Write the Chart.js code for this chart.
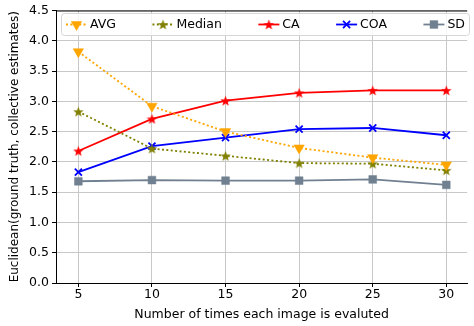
<!DOCTYPE html>
<html lang="en">
<head>
<meta charset="UTF-8">
<title>Euclidean distance chart</title>
<style>
    * { margin: 0; padding: 0; box-sizing: border-box; }
    body { background: #fff; width: 474px; height: 326px; overflow: hidden; }
    #wrap { width: 474px; height: 326px; position: relative; }
</style>
<script src="https://cdn.jsdelivr.net/npm/chart.js"></script>
</head>
<body>
<div id="wrap"><canvas id="chart"></canvas></div>
<script>
    // data
    var evaluations = [5, 10, 15, 20, 25, 30];
    var avgValues    = [3.82, 2.92, 2.50, 2.23, 2.07, 1.95];
    var medianValues = [2.83, 2.22, 2.10, 1.98, 1.97, 1.86];
    var caValues     = [2.18, 2.71, 3.01, 3.14, 3.18, 3.18];
    var coaValues    = [1.83, 2.26, 2.40, 2.54, 2.56, 2.44];
    var sdValues     = [1.68, 1.70, 1.69, 1.69, 1.71, 1.62];
    var yTicks = [0, 0.5, 1, 1.5, 2, 2.5, 3, 3.5, 4, 4.5];

    var FONT = "'DejaVu Sans', sans-serif";
    var FSIZE = 12.5;

    // filled five point star, since Chart.js 'star' is an asterisk
    function makeStar(color, size) {
        var c = document.createElement('canvas');
        c.width = size; c.height = size;
        var g = c.getContext('2d');
        var cx = size / 2, cy = size / 2, R = size / 2, r = R * 0.42;
        g.beginPath();
        for (var i = 0; i < 10; i++) {
            var rad = (i % 2 === 0) ? R : r;
            var a = -Math.PI / 2 + i * Math.PI / 5;
            var px = cx + rad * Math.cos(a), py = cy + rad * Math.sin(a) + size * 0.05;
            if (i === 0) g.moveTo(px, py); else g.lineTo(px, py);
        }
        g.closePath();
        g.fillStyle = color;
        g.fill();
        return c;
    }

    function pts(values) {
        return values.map(function (v, i) { return { x: evaluations[i], y: v }; });
    }

    var datasets = [
        { label: 'AVG', data: pts(avgValues), borderColor: '#ffa500', backgroundColor: '#ffa500',
          borderDash: [2, 2.4], pointStyle: 'triangle', rotation: 180, pointRadius: 6 },
        { label: 'Median', data: pts(medianValues), borderColor: '#808000', backgroundColor: '#808000',
          borderDash: [2, 2.4], pointStyle: makeStar('#808000', 11), pointRadius: 5 },
        { label: 'CA', data: pts(caValues), borderColor: '#ff0000', backgroundColor: '#ff0000',
          pointStyle: makeStar('#ff0000', 11), pointRadius: 5 },
        { label: 'COA', data: pts(coaValues), borderColor: '#0000ff', backgroundColor: '#0000ff',
          pointStyle: 'crossRot', pointRadius: 5, pointBorderWidth: 1.8 },
        { label: 'SD', data: pts(sdValues), borderColor: '#708090', backgroundColor: '#708090',
          pointStyle: 'rect', pointRadius: 5.5 }
    ];
    datasets.forEach(function (d) {
        d.borderWidth = 1.8;
        d.tension = 0;
        d.pointBorderColor = d.borderColor;
        if (!d.pointBorderWidth) d.pointBorderWidth = 0.5;
    });

    // top spine + matplotlib style legend box
    var extras = {
        id: 'extras',
        afterDraw: function (chart) {
            var ctx = chart.ctx, a = chart.chartArea;
            ctx.save();
            ctx.strokeStyle = '#000';
            ctx.lineWidth = 1;
            ctx.beginPath();
            ctx.moveTo(a.left, a.top + 0.5);
            ctx.lineTo(a.right, a.top + 0.5);
            ctx.stroke();

            var bx = 61, by = 13, bw = 408, bh = 22;
            ctx.fillStyle = 'rgba(255,255,255,0.8)';
            ctx.strokeStyle = '#d6d6d6';
            ctx.beginPath();
            ctx.roundRect(bx + 0.5, by + 0.5, bw, bh, 3);
            ctx.fill();
            ctx.stroke();

            ctx.font = FSIZE + 'px ' + FONT;
            var handle = 21, gap = 3;
            var widths = chart.data.datasets.map(function (d) {
                return handle + gap + ctx.measureText(d.label).width;
            });
            var total = widths.reduce(function (s, w) { return s + w; }, 0);
            var x0 = bx + 5, x1 = bx + bw - 4;
            var spacing = (x1 - x0 - total) / (widths.length - 1);
            var cy = by + bh / 2 + 0.5;
            var x = x0;
            chart.data.datasets.forEach(function (d, i) {
                ctx.strokeStyle = d.borderColor;
                ctx.lineWidth = d.borderWidth;
                ctx.setLineDash(d.borderDash || []);
                ctx.beginPath();
                ctx.moveTo(x, cy);
                ctx.lineTo(x + handle, cy);
                ctx.stroke();
                ctx.setLineDash([]);
                ctx.fillStyle = d.backgroundColor;
                ctx.lineWidth = d.pointBorderWidth;
                Chart.helpers.drawPoint(ctx, {
                    pointStyle: d.pointStyle, rotation: d.rotation || 0,
                    radius: d.pointRadius, borderWidth: d.pointBorderWidth
                }, x + handle / 2, cy);
                ctx.fillStyle = '#000';
                ctx.textBaseline = 'middle';
                ctx.fillText(d.label, x + handle + gap, cy + 0.5);
                x += widths[i] + spacing;
            });
            ctx.restore();
        }
    };

    new Chart(document.getElementById('chart').getContext('2d'), {
        type: 'line',
        data: { datasets: datasets },
        options: {
            responsive: true,
            maintainAspectRatio: false,
            animation: false,
            layout: { padding: { top: 10, right: 0, left: 0, bottom: 0 } },
            plugins: { legend: { display: false }, tooltip: { enabled: false } },
            scales: {
                x: {
                    type: 'linear',
                    min: 3.48,
                    max: 31.42,
                    afterBuildTicks: function (s) {
                        s.ticks = evaluations.map(function (v) { return { value: v }; });
                    },
                    afterFit: function (s) { s.height = 43; },
                    grid: { color: '#c8c8c8', lineWidth: 1, tickColor: '#000', tickLength: 4 },
                    border: { color: '#000', width: 1 },
                    ticks: { color: '#000', font: { family: FONT, size: FSIZE }, padding: 0 },
                    title: { display: true, text: 'Number of times each image is evaluted', color: '#000',
                             font: { family: FONT, size: FSIZE }, padding: { top: 0, bottom: 4 } }
                },
                y: {
                    min: 0,
                    max: 4.5,
                    afterBuildTicks: function (s) {
                        s.ticks = yTicks.map(function (v) { return { value: v }; });
                    },
                    afterFit: function (s) { s.width = 56; },
                    grid: { color: '#c8c8c8', lineWidth: 1, tickColor: '#000', tickLength: 4 },
                    border: { color: '#000', width: 1 },
                    ticks: { color: '#000', font: { family: FONT, size: FSIZE }, padding: 3,
                             callback: function (v) { return v.toFixed(1); } },
                    title: { display: true, text: 'Euclidean(ground truth, collective estimates)', color: '#000',
                             font: { family: FONT, size: 12 }, padding: { top: 8, bottom: 0 } }
                }
            }
        },
        plugins: [extras]
    });
</script>
</body>
</html>
